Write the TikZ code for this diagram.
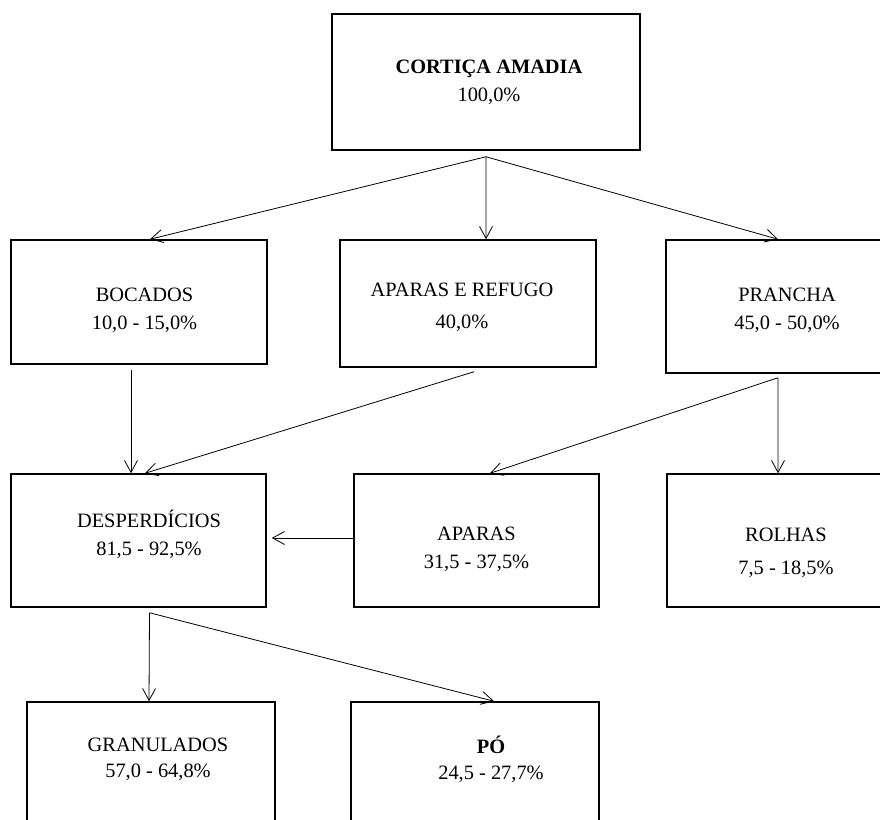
\documentclass[tikz,border=0pt]{standalone}
\usepackage{fontspec}
\setmainfont{Liberation Serif}
\usetikzlibrary{arrows.meta}
\tikzset{
	>={Straight Barb[length=12bp,width=13bp]},
	flowbox/.style={draw, line width=1.5bp, inner sep=0pt},
	flowtext/.style={align=center, inner sep=0pt},
	flowline/.style={->, line width=0.8bp},
}
\begin{document}
\begin{tikzpicture}[x=1bp, y=-1bp, font=\fontsize{20.4bp}{28bp}\selectfont]
	\useasboundingbox (0,0) rectangle (880,820);
	\clip (0,0) rectangle (880,820);
	%Boxes
		%top
		\node[flowbox, minimum width=308bp, minimum height=136bp] (amadia) at (486,82) {};
		%second row
		\node[flowbox, minimum width=256bp, minimum height=124bp] (bocados) at (139,302) {};
		\node[flowbox, minimum width=256bp, minimum height=127bp] (refugo) at (468,303.5) {};
		\node[flowbox, minimum width=256bp, minimum height=133bp] (prancha) at (794,306.5) {};
		%third row
		\node[flowbox, minimum width=255bp, minimum height=133bp] (desperd) at (138.5,540.5) {};
		\node[flowbox, minimum width=245bp, minimum height=133bp] (aparas) at (476.5,540.5) {};
		\node[flowbox, minimum width=245bp, minimum height=133bp] (rolhas) at (789.5,540.5) {};
		%bottom row
		\node[flowbox, minimum width=248bp, minimum height=133bp] (granul) at (151,768.5) {};
		\node[flowbox, minimum width=248bp, minimum height=133bp] (po) at (475,768.5) {};
	%Texts
		\node[flowtext] (amadia-txt) at ([xshift=3bp]amadia.center) {\textbf{CORTIÇA AMADIA}\\100,0\%};
		\node[flowtext] (bocados-txt) at ([xshift=5.5bp, yshift=-8bp]bocados.center) {BOCADOS\\10,0 - 15,0\%};
		\node[flowtext] (refugo-txt) at ([xshift=-6bp, yshift=-3.5bp]refugo.center) {APARAS E REFUGO\\[4bp]40,0\%};
		\node[flowtext] (prancha-txt) at ([xshift=-7bp, yshift=-4bp]prancha.center) {PRANCHA\\45,0 - 50,0\%};
		\node[flowtext] (desperd-txt) at ([xshift=10.5bp, yshift=6bp]desperd.center) {DESPERDÍCIOS\\81,5 - 92,5\%};
		\node[flowtext] (aparas-txt) at ([yshift=-9bp]aparas.center) {APARAS\\31,5 - 37,5\%};
		\node[flowtext] (rolhas-txt) at ([xshift=-3.5bp, yshift=-12bp]rolhas.center) {ROLHAS\\[5bp]7,5 - 18,5\%};
		\node[flowtext] (granul-txt) at ([xshift=7bp, yshift=9.5bp]granul.center) {GRANULADOS\\[-2bp]57,0 - 64,8\%};
		\node[flowtext] (po-txt) at ([xshift=16bp, yshift=9.5bp]po.center) {\textbf{PÓ}\\[-2bp]24,5 - 27,7\%};
	%Arrows
		\coordinate (amadia-out) at ([yshift=-6bp]amadia.south);
		\draw[flowline] (amadia-out) -- ([xshift=11bp]bocados.north);
		\draw[flowline] (amadia-out) -- ([xshift=18bp]refugo.north);
		\draw[flowline] (amadia-out) -- ([xshift=-16bp]prancha.north);
		\draw[flowline] ([xshift=-8bp, yshift=-5bp]bocados.south) -- ([xshift=-7.5bp]desperd.north);
		\draw[flowline] ([xshift=6bp, yshift=-4bp]refugo.south) -- ([xshift=6.5bp]desperd.north);
		\coordinate (prancha-out) at ([xshift=-16bp, yshift=-4bp]prancha.south);
		\draw[flowline] (prancha-out) -- ([xshift=13.5bp]aparas.north);
		\draw[flowline] (prancha-out) -- ([xshift=-11.5bp]rolhas.north);
		\draw[flowline] ([yshift=2.5bp]aparas.west) -- ([xshift=5bp, yshift=2.5bp]desperd.east);
		\coordinate (desperd-out) at ([xshift=11bp, yshift=-5bp]desperd.south);
		\draw[flowline] (desperd-out) -- ([xshift=-2bp]granul.north);
		\draw[flowline] (desperd-out) -- ([xshift=19bp]po.north);
\end{tikzpicture}
\end{document}
